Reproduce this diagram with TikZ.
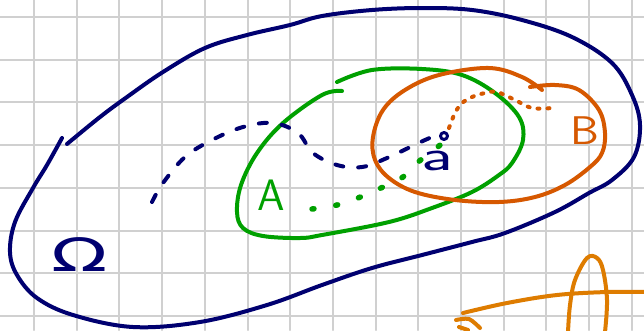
\documentclass[tikz,border=0pt]{standalone}
\usepackage{fontspec}
\newfontfamily\dejavusans{DejaVu Sans}
\begin{document}
\begin{tikzpicture}[x=1pt,y=-1pt,line cap=round,line join=round]
\definecolor{navyink}{RGB}{0,0,112}
\definecolor{greenink}{RGB}{0,160,0}
\definecolor{redink}{RGB}{214,88,0}
\definecolor{orangeink}{RGB}{222,124,0}
\definecolor{gridgray}{RGB}{208,208,208}
\tikzset{
  gridline/.style={gridgray,line width=2pt},
  navypen/.style={navyink,line width=4pt},
  greenpen/.style={greenink,line width=4pt},
  redpen/.style={redink,line width=4pt},
  orangepen/.style={orangeink,line width=4pt},
  handlabel/.style={inner sep=0pt}
}
\useasboundingbox (0,0) rectangle (644,330);
\fill[white] (0,0) rectangle (644,330);
% grid
\foreach \k in {0,...,14} \draw[gridline] ({34+42.7*\k},0) -- ({34+42.7*\k},330);
\foreach \k in {0,...,7} \draw[gridline] (0,{17+42.7*\k}) -- (644,{17+42.7*\k});
% Omega outline
\draw[navypen] plot[smooth,tension=0.6] coordinates {(67,144) (100,117) (127,97) (163,72) (205,48) (247,35) (290,25) (322,16) (372,10) (422,8) (472,10) (522,20) (572,37) (612,63) (632,95) (640,125) (634,157) (612,180) (589,193) (555,212) (505,233) (472,242) (422,255) (372,268) (322,285) (267,305) (200,322) (133,327) (73,315) (37,298) (17,275) (10,252) (15,222) (33,188) (47,165) (62,138)};
% A outline
\draw[greenpen] plot[smooth,tension=0.6] coordinates {(342,91) (322,95) (283,123) (257,153) (241,185) (237,212) (243,228) (263,236) (300,238) (322,235) (389,222) (432,208) (472,192) (499,175) (512,163) (523,140) (519,117) (495,93) (462,75) (422,69) (372,70) (337,82)};
% B outline
\draw[redpen] plot[smooth,tension=0.6] coordinates {(542,90) (522,77) (489,68) (439,75) (405,90) (383,110) (373,137) (375,160) (389,178) (415,192) (455,200) (499,202) (535,197) (565,185) (590,167) (602,153) (605,133) (599,110) (579,90) (555,85) (530,87)};
% navy dashed path
\draw[navypen,dash pattern=on 8pt off 15pt] plot[smooth,tension=0.6] coordinates {(152,202) (163,183) (185,157) (212,140) (243,127) (273,123) (298,133) (313,153) (337,165) (362,167) (387,158) (425,140) (443,133)};
\draw[navyink,line width=3pt] (444,136) circle (3.5);
% green dotted path
\draw[greenpen,line width=5.5pt,dash pattern=on 2pt off 22pt] plot[smooth,tension=0.6] coordinates {(312,209) (337,205) (363,196) (383,187) (403,177) (417,163) (430,153) (444,142)};
% red dotted path
\draw[redpen,dash pattern=on 2pt off 8pt] plot[smooth,tension=0.6] coordinates {(449,128) (455,113) (462,103) (472,97) (485,93) (497,92) (515,100) (532,108) (552,108)};
% labels
\node[handlabel,navyink,font=\dejavusans\fontsize{46}{46}\selectfont,xscale=1.6] (omega) at (80,255) {Ω};
\node[handlabel,greenink,font=\sffamily\fontsize{44}{44}\selectfont] (lblA) at (271,195) {A};
\node[handlabel,redink,font=\sffamily\fontsize{40}{40}\selectfont,xscale=1.15] (lblB) at (585,131) {B};
\node[handlabel,navyink,font=\sffamily\fontsize{44}{44}\selectfont,xscale=1.6] (lbla) at (437,161) {a};
% bottom-right orange strokes
\draw[orangepen] plot[smooth,tension=0.6] coordinates {(463,313) (507,303) (557,295) (607,292) (646,292)};
\draw[orangepen] plot[smooth,tension=0.6] coordinates {(568,332) (570,305) (575,280) (587,258) (597,258) (603,270) (607,300) (605,332)};
\draw[orangepen] plot[smooth] coordinates {(456,320) (469,319) (480,328)};
\draw[orangepen] plot[smooth] coordinates {(459,327) (468,330)};
\end{tikzpicture}
\end{document}
